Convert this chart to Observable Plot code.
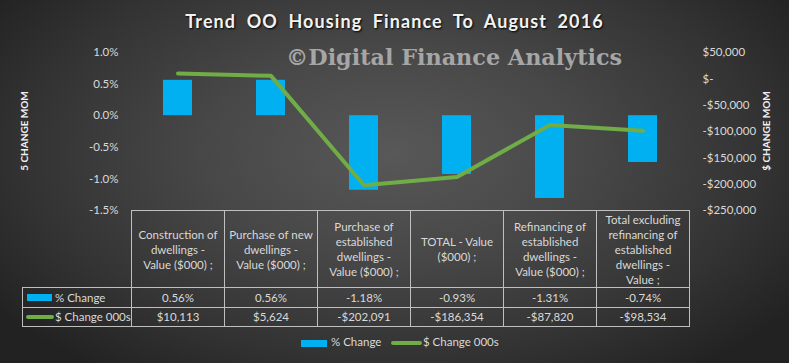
<!DOCTYPE html>
<html>
<head>
<meta charset="utf-8">
<script src="https://cdn.jsdelivr.net/npm/d3@7"></script>
<script src="https://cdn.jsdelivr.net/npm/@observablehq/plot@0.6"></script>
<style>
  html, body { margin: 0; padding: 0; background: #2a2a2a; }
  #wrap {
    position: relative; width: 789px; height: 363px; overflow: hidden;
    background: radial-gradient(ellipse 62% 75% at 50% 42%, #585858 0%, #474747 40%, #333 75%, #222 100%);
    font-family: Lato, "Open Sans", sans-serif; color: #d9d9d9;
  }
  #wrap svg { position: absolute; left: 0; top: 0; background: transparent; }
  .abs { position: absolute; white-space: nowrap; }
  .title { left: 0; width: 789px; top: 10px; text-align: center; font-weight: bold; font-size: 18px;
           color: #f2f2f2; letter-spacing: 1.1px; word-spacing: 5px; text-shadow: 1px 1px 2px #000; }
  .wm { left: 286px; top: 44px; font-family: "DejaVu Serif", serif; font-weight: bold; font-size: 22.3px; color: #a6a6a6; }
  .axt { font-size: 10px; font-weight: bold; color: #f2f2f2; transform: translate(-50%,-50%) rotate(-90deg); }
  .cell { position: absolute; box-sizing: border-box; border: 1px solid #bfbfbf; display: flex;
          align-items: center; justify-content: center; text-align: center; font-size: 11.5px; line-height: 15px; color: #d9d9d9; }
  .lab { justify-content: flex-start; padding-left: 4px; white-space: nowrap; }
</style>
</head>
<body>
<div id="wrap"></div>
<script>
const categories = [
  "Construction of dwellings - Value ($000) ;",
  "Purchase of new dwellings - Value ($000) ;",
  "Purchase of established dwellings - Value ($000) ;",
  "TOTAL - Value ($000) ;",
  "Refinancing of established dwellings - Value ($000) ;",
  "Total excluding refinancing of established dwellings - Value ;"
];
const headerLines = [
  ["Construction of", "dwellings -", "Value ($000) ;"],
  ["Purchase of new", "dwellings -", "Value ($000) ;"],
  ["Purchase of", "established", "dwellings -", "Value ($000) ;"],
  ["TOTAL - Value", "($000) ;"],
  ["Refinancing of", "established", "dwellings -", "Value ($000) ;"],
  ["Total excluding", "refinancing of", "established", "dwellings -", "Value ;"]
];
const pctChange = [0.56, 0.56, -1.18, -0.93, -1.31, -0.74];
const dollarChange = [10113, 5624, -202091, -186354, -87820, -98534];
const pctLabels = ["0.56%", "0.56%", "-1.18%", "-0.93%", "-1.31%", "-0.74%"];
const dollarLabels = ["$10,113", "$5,624", "-$202,091", "-$186,354", "-$87,820", "-$98,534"];
const leftTicks = [-1.5, -1.0, -0.5, 0, 0.5, 1.0];
const rightTicks = [-250000, -200000, -150000, -100000, -50000, 0, 50000];

const L = [-1.5, 1.0], R = [-250000, 50000];
const toLeft = v => L[0] + (v - R[0]) / (R[1] - R[0]) * (L[1] - L[0]);
const fromLeft = p => R[0] + (p - L[0]) / (L[1] - L[0]) * (R[1] - R[0]);
const fmtRight = v => {
  v = Math.round(v);
  if (v === 0) return "$-";
  return (v < 0 ? "-$" : "$") + d3.format(",")(Math.abs(v));
};

const bars = categories.map((c, i) => ({cat: c, pct: pctChange[i]}));
const line = categories.map((c, i) => ({cat: c, v: toLeft(dollarChange[i])}));

const chart = Plot.plot({
  width: 789, height: 363,
  marginTop: 52, marginBottom: 153, marginLeft: 129, marginRight: 98,
  style: {background: "transparent", fontFamily: "Lato, sans-serif", fontSize: "11.5px", color: "#d9d9d9"},
  x: {domain: categories, paddingInner: 0.69, paddingOuter: 0.345, axis: null},
  y: {domain: L, axis: null},
  marks: [
    Plot.barY(bars, {x: "cat", y: "pct", fill: "#00b0f0"}),
    Plot.line(line, {x: "cat", y: "v", stroke: "#70ad47", strokeWidth: 4, curve: "linear"}),
    Plot.axisY(leftTicks, {anchor: "left", tickSize: 0, tickPadding: 11, label: null,
      tickFormat: d => d.toFixed(1) + "%", fill: "#d9d9d9", fontSize: 11.5}),
    Plot.axisY(rightTicks.map(toLeft), {anchor: "right", tickSize: 0, tickPadding: 11, label: null,
      textAnchor: "start", tickFormat: d => fmtRight(fromLeft(d)), fill: "#d9d9d9", fontSize: 11.5})
  ]
});

const wrap = document.getElementById("wrap");
wrap.appendChild(chart);

function addDiv(cls, html, css) {
  const d = document.createElement("div");
  d.className = cls; d.innerHTML = html;
  Object.assign(d.style, css || {});
  wrap.appendChild(d);
  return d;
}
addDiv("abs title", "Trend OO Housing Finance To August 2016");
addDiv("abs wm", "©Digital Finance Analytics");
addDiv("abs axt", "5 CHANGE MOM", {left: "24px", top: "131px"});
addDiv("abs axt", "$ CHANGE MOM", {left: "766px", top: "131px"});

// table built on the x scale
const xs = chart.scale("x");
const step = xs.step, bw = xs.bandwidth;
const yTop = 210, yH = 287, yR1 = 306.5, yR2 = 325.5;
categories.forEach((c, i) => {
  const left = xs.apply(c) - (step - bw) / 2;
  const w = step + 1;
  addDiv("cell", headerLines[i].join("<br>"), {left: left + "px", top: yTop + "px", width: w + "px", height: (yH - yTop + 1) + "px"});
  addDiv("cell", pctLabels[i], {left: left + "px", top: yH + "px", width: w + "px", height: (yR1 - yH + 1) + "px"});
  addDiv("cell", dollarLabels[i], {left: left + "px", top: yR1 + "px", width: w + "px", height: (yR2 - yR1 + 1) + "px"});
});
const x0 = xs.apply(categories[0]) - (step - bw) / 2;
addDiv("cell lab", '<span style="display:inline-block;flex:none;width:25px;height:7px;background:#00b0f0;margin-right:3px"></span>% Change',
  {left: "22px", top: yH + "px", width: (x0 - 22 + 1) + "px", height: (yR1 - yH + 1) + "px"});
addDiv("cell lab", '<span style="display:inline-block;flex:none;width:28px;height:4px;border-radius:2px;background:#70ad47;margin-right:1px"></span>$ Change 000s',
  {left: "22px", top: yR1 + "px", width: (x0 - 22 + 1) + "px", height: (yR2 - yR1 + 1) + "px", paddingLeft: "3px"});

// bottom legend
addDiv("abs", '<span style="display:inline-block;width:26px;height:7px;background:#00b0f0;margin-right:4px;vertical-align:middle"></span>% Change',
  {left: "301px", top: "335px", fontSize: "11.5px"});
addDiv("abs", '<span style="display:inline-block;width:31px;height:4px;border-radius:2px;background:#70ad47;margin-right:1px;vertical-align:middle"></span>$ Change 000s',
  {left: "391px", top: "335px", fontSize: "11.5px"});
</script>
</body>
</html>
